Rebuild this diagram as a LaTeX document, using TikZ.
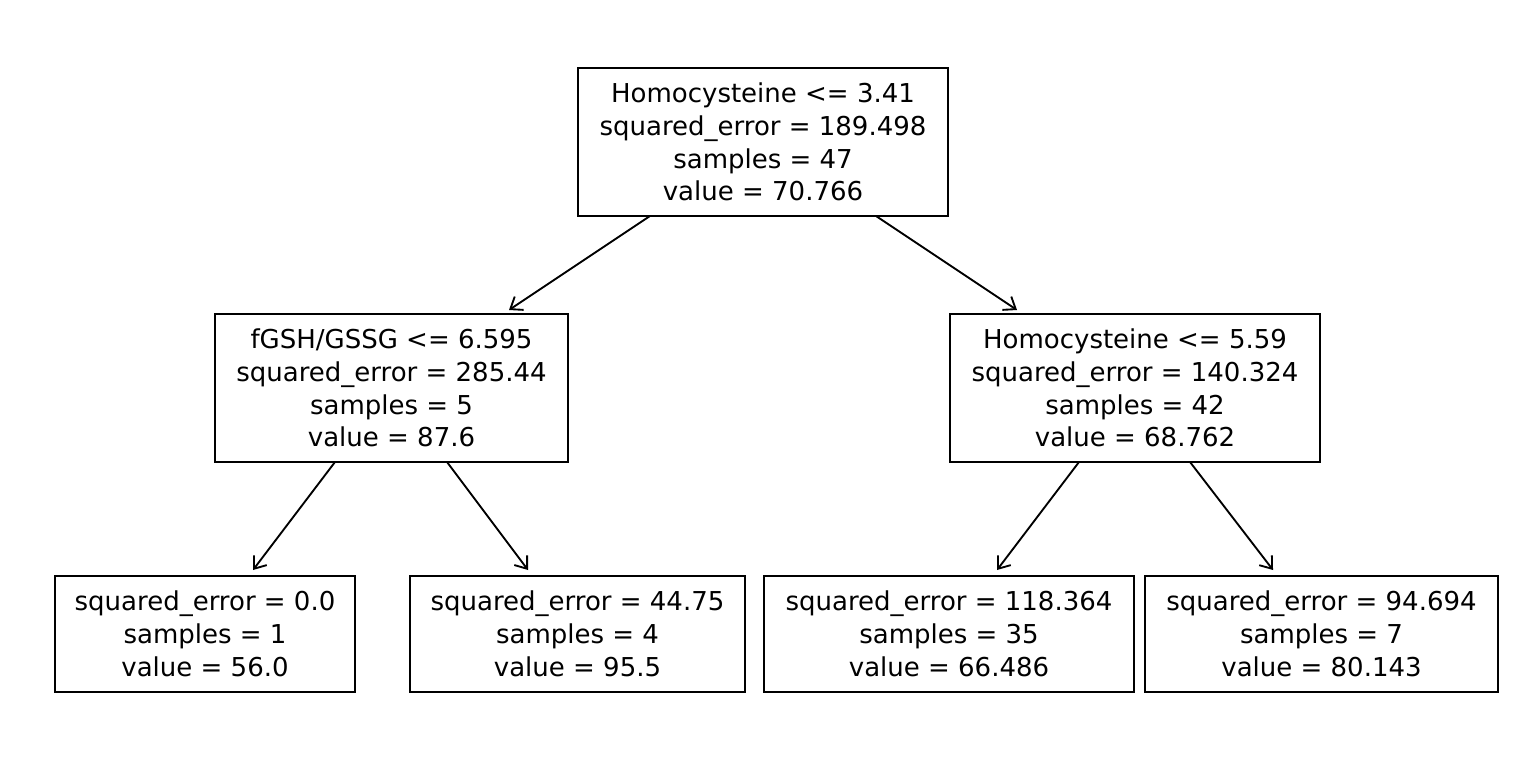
\documentclass[tikz,border=0pt]{standalone}
\usepackage{fontspec}
\setmainfont{DejaVu Sans}
\usetikzlibrary{arrows.meta}

\begin{document}
\begin{tikzpicture}[
    x = 0.75pt, y = -0.75pt,
    treebox/.style = {draw, line width=1.4pt, align=center, inner sep=0pt,
                      font=\fontsize{19.5pt}{24.6pt}\selectfont},
    edge/.style = {line width=1.4pt, -{Straight Barb[length=8pt, width=12pt, line width=1.4pt]}}
]

\useasboundingbox (0, 0) rectangle (1526, 777);

% nodes
\node[treebox, minimum width=370*0.75pt, minimum height=148*0.75pt] (root) at (763, 142)
    {Homocysteine <= 3.41\\squared\_error = 189.498\\samples = 47\\value = 70.766};
\node[treebox, minimum width=353*0.75pt, minimum height=148*0.75pt] (left) at (391.5, 388)
    {fGSH/GSSG <= 6.595\\squared\_error = 285.44\\samples = 5\\value = 87.6};
\node[treebox, minimum width=370*0.75pt, minimum height=148*0.75pt] (right) at (1135, 388)
    {Homocysteine <= 5.59\\squared\_error = 140.324\\samples = 42\\value = 68.762};
\node[treebox, minimum width=300*0.75pt, minimum height=116*0.75pt] (leftleft) at (205, 634)
    {squared\_error = 0.0\\samples = 1\\value = 56.0};
\node[treebox, minimum width=335*0.75pt, minimum height=116*0.75pt] (leftright) at (577.5, 634)
    {squared\_error = 44.75\\samples = 4\\value = 95.5};
\node[treebox, minimum width=370*0.75pt, minimum height=116*0.75pt] (rightleft) at (949, 634)
    {squared\_error = 118.364\\samples = 35\\value = 66.486};
\node[treebox, minimum width=353*0.75pt, minimum height=116*0.75pt] (rightright) at (1321.5, 634)
    {squared\_error = 94.694\\samples = 7\\value = 80.143};

% arrow ends
\coordinate (rootL) at (650, 216);
\coordinate (rootR) at (876, 216);
\coordinate (leftL) at (335, 462);
\coordinate (leftR) at (447, 462);
\coordinate (rightL) at (1079, 462);
\coordinate (rightR) at (1190, 462);
\coordinate (toleft) at (509, 310);
\coordinate (toright) at (1017, 310);
\coordinate (toleftleft) at (253, 570);
\coordinate (toleftright) at (528, 570);
\coordinate (torightleft) at (997, 570);
\coordinate (torightright) at (1273, 570);

\draw[edge] (rootL) -- (toleft);
\draw[edge] (rootR) -- (toright);
\draw[edge] (leftL) -- (toleftleft);
\draw[edge] (leftR) -- (toleftright);
\draw[edge] (rightL) -- (torightleft);
\draw[edge] (rightR) -- (torightright);

\end{tikzpicture}
\end{document}
